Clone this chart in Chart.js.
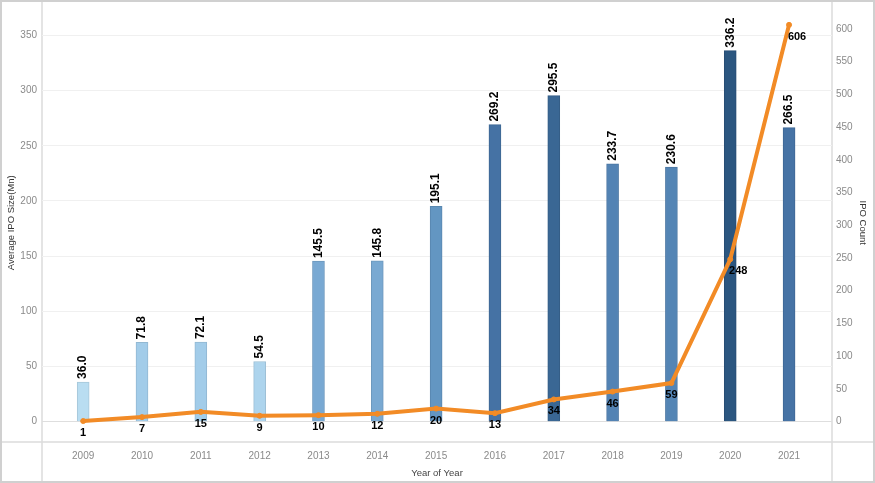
<!DOCTYPE html>
<html lang="en">
<head>
  <meta charset="UTF-8">
  <title>Average IPO Size and IPO Count by Year</title>
  <script src="https://cdn.jsdelivr.net/npm/chart.js"></script>
  <style>
    body { margin: 0; background: #fff; }
    #wrap { width: 875px; height: 483px; }
  </style>
</head>
<body>
  <div id="wrap"><canvas id="ipoChart" width="875" height="483"></canvas></div>

  <script>
    // values
    var years = [2009, 2010, 2011, 2012, 2013, 2014, 2015, 2016, 2017, 2018, 2019, 2020, 2021];
    var avgIpoSize = [36.0, 71.8, 72.1, 54.5, 145.5, 145.8, 195.1, 269.2, 295.5, 233.7, 230.6, 336.2, 266.5];
    var ipoCount = [1, 7, 15, 9, 10, 12, 20, 13, 34, 46, 59, 248, 606];
    var sizeTicks = [0, 50, 100, 150, 200, 250, 300, 350];
    var countTicks = [0, 50, 100, 150, 200, 250, 300, 350, 400, 450, 500, 550, 600];

    var FONT = "'Liberation Sans', Arial, sans-serif";
    var ORANGE = '#f28b26';

    // Tableau-like sequential blue ramp
    var ramp = [
      [0.00, [185, 221, 241]],
      [0.12, [162, 204, 233]],
      [0.36, [122, 170, 211]],
      [0.53, [99, 150, 194]],
      [0.66, [83, 131, 180]],
      [0.77, [70, 115, 165]],
      [0.86, [59, 104, 149]],
      [1.00, [43, 86, 128]]
    ];
    function rampColor(v, min, max, darken) {
      var t = Math.max(0, Math.min(1, (v - min) / (max - min)));
      for (var i = 1; i < ramp.length; i++) {
        if (t <= ramp[i][0]) {
          var a = ramp[i - 1], b = ramp[i];
          var k = (t - a[0]) / (b[0] - a[0]);
          var c = a[1].map(function(x, j) { return Math.round((x + (b[1][j] - x) * k) * (darken || 1)); });
          return 'rgb(' + c.join(',') + ')';
        }
      }
    }
    var vMin = Math.min.apply(null, avgIpoSize), vMax = Math.max.apply(null, avgIpoSize);
    var barFill = avgIpoSize.map(function(v) { return rampColor(v, vMin, vMax, 1); });
    var barEdge = avgIpoSize.map(function(v) { return rampColor(v, vMin, vMax, 0.9); });

    function fixedTicks(list) {
      return function(scale) { scale.ticks = list.map(function(v) { return { value: v }; }); };
    }
    // pin the scale box and drop the label overhang padding
    function pinSize(prop, size) {
      return function(s) {
        s[prop] = size;
        s.paddingTop = 0; s.paddingBottom = 0;
        s.paddingLeft = 0; s.paddingRight = 0;
      };
    }

    // frame lines like the Tableau worksheet
    var framePlugin = {
      id: 'frame',
      beforeDraw: function(chart) {
        var ctx = chart.ctx, a = chart.chartArea;
        ctx.save();
        ctx.fillStyle = '#fff';
        ctx.fillRect(0, 0, chart.width, chart.height);
        ctx.strokeStyle = '#dcdcdc';
        ctx.lineWidth = 1.5;
        ctx.beginPath();
        ctx.moveTo(a.left, 0); ctx.lineTo(a.left, chart.height);
        ctx.moveTo(a.right, 0); ctx.lineTo(a.right, chart.height);
        ctx.moveTo(0, a.bottom); ctx.lineTo(chart.width, a.bottom);
        ctx.stroke();
        ctx.strokeStyle = '#d0d0d0';
        ctx.lineWidth = 2;
        ctx.strokeRect(1, 1, chart.width - 2, chart.height - 2);
        ctx.restore();
      }
    };

    // value labels: rotated above bars, under the line points
    var labelPlugin = {
      id: 'valueLabels',
      afterDatasetsDraw: function(chart) {
        var ctx = chart.ctx;
        ctx.save();
        ctx.fillStyle = '#000';
        ctx.font = 'bold 12px ' + FONT;
        ctx.textAlign = 'left';
        ctx.textBaseline = 'middle';
        chart.getDatasetMeta(0).data.forEach(function(bar, i) {
          ctx.save();
          ctx.translate(bar.x, bar.y - 3);
          ctx.rotate(-Math.PI / 2);
          ctx.fillText(avgIpoSize[i].toFixed(1), 0, 0);
          ctx.restore();
        });
        ctx.font = 'bold 11px ' + FONT;
        ctx.textAlign = 'center';
        var pts = chart.getDatasetMeta(1).data;
        pts.forEach(function(p, i) {
          var dx = 0;
          if (i > 0 && pts[i - 1].y - p.y > 100) dx = 8;
          ctx.fillText(String(ipoCount[i]), p.x + dx, p.y + 12);
        });
        ctx.restore();
      }
    };

    var tickFont = { family: FONT, size: 10 };
    var titleFont = { family: FONT, size: 9.5 };

    new Chart(document.getElementById('ipoChart'), {
      data: {
        datasets: [{
          type: 'bar',
          label: 'Average IPO Size(Mn)',
          data: years.map(function(y, i) { return { x: y, y: avgIpoSize[i] }; }),
          backgroundColor: barFill,
          borderColor: barEdge,
          borderWidth: 1,
          barThickness: 12,
          yAxisID: 'y',
          order: 1
        }, {
          type: 'line',
          label: 'IPO Count',
          data: years.map(function(y, i) { return { x: y, y: ipoCount[i] }; }),
          borderColor: ORANGE,
          backgroundColor: ORANGE,
          borderWidth: 4,
          pointRadius: 2.5,
          pointBorderWidth: 1,
          pointHoverRadius: 2.5,
          tension: 0,
          yAxisID: 'y1',
          order: 0
        }]
      },
      options: {
        responsive: false,
        animation: false,
        devicePixelRatio: 1,
        layout: { padding: { top: 3, left: 0, right: 0, bottom: 0 } },
        plugins: {
          legend: { display: false },
          tooltip: { enabled: false }
        },
        scales: {
          x: {
            type: 'linear',
            offset: false,
            min: 2008.3,
            max: 2021.73,
            afterBuildTicks: fixedTicks(years),
            afterFit: pinSize('height', 41),
            grid: { display: false, drawTicks: false },
            border: { display: false },
            ticks: {
              padding: 8,
              color: '#8a8a8a',
              font: tickFont,
              callback: function(v) { return String(v); }
            },
            title: {
              display: true,
              text: 'Year of Year',
              color: '#444',
              font: titleFont,
              padding: { top: 0, bottom: 4 }
            }
          },
          y: {
            position: 'left',
            min: -18.4,
            max: 378.9,
            afterBuildTicks: fixedTicks(sizeTicks),
            afterFit: pinSize('width', 42),
            grid: {
              drawTicks: false,
              color: function(c) { return c.tick && c.tick.value === 0 ? '#dedede' : '#f0f0f0'; }
            },
            border: { display: false },
            ticks: { padding: 5, color: '#8a8a8a', font: tickFont },
            title: {
              display: true,
              text: 'Average IPO Size(Mn)',
              color: '#333',
              font: titleFont,
              padding: { top: 6, bottom: 0 }
            }
          },
          y1: {
            position: 'right',
            min: -31,
            max: 638.6,
            afterBuildTicks: fixedTicks(countTicks),
            afterFit: pinSize('width', 43),
            grid: { display: false, drawTicks: false },
            border: { display: false },
            ticks: { padding: 4, color: '#8a8a8a', font: tickFont },
            title: {
              display: true,
              text: 'IPO Count',
              color: '#333',
              font: titleFont,
              padding: { top: 7, bottom: 0 }
            }
          }
        }
      },
      plugins: [framePlugin, labelPlugin]
    });
  </script>
</body>
</html>
